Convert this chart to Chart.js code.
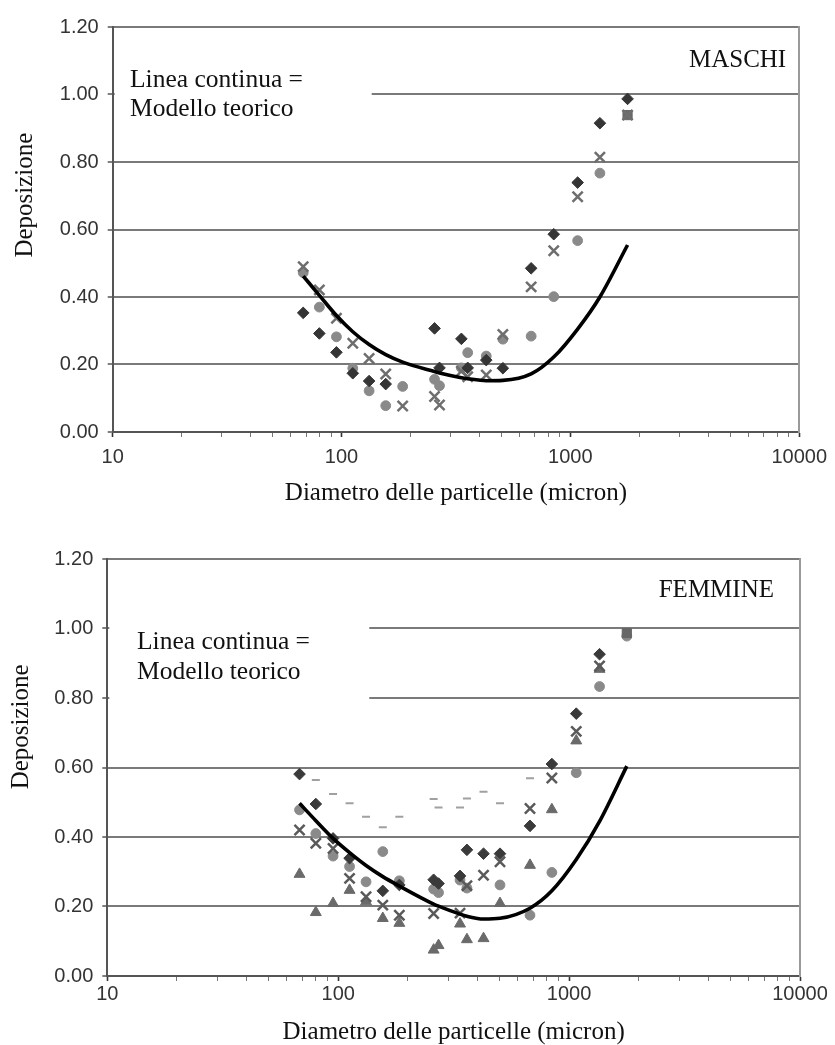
<!DOCTYPE html>
<html><head><meta charset="utf-8">
<script src="https://cdn.jsdelivr.net/npm/chart.js@4/dist/chart.umd.min.js"></script>
<style>
html,body{margin:0;padding:0;background:#fff;}
#wrap{position:relative;width:835px;height:1045px;overflow:hidden;}
.c{position:absolute;left:0;width:835px;}
</style></head><body>
<div id="wrap">
<div class="c" style="top:0;height:522px"><canvas id="top"></canvas></div>
<div class="c" style="top:522px;height:523px"><canvas id="bot"></canvas></div>
</div>
<script>
// ---- axis ticks ----
const xTicks = [10,20,30,40,50,60,70,80,90,100,200,300,400,500,600,700,800,900,1000,2000,3000,4000,5000,6000,7000,8000,9000,10000];
const xMajor = [10,100,1000,10000];
const xMajorLabels = ['10','100','1000','10000'];
const yTickLabels = ['0.00','0.20','0.40','0.60','0.80','1.00','1.20'];

// ---- MASCHI (top) ----
const xTop       = [68, 80, 95, 112, 132, 156, 185, 255, 268, 334, 356, 429, 507, 674, 846, 1076, 1346, 1778];
const topDiamond = [0.353, 0.292, 0.236, 0.174, 0.151, 0.142, null, 0.307, 0.190, 0.276, 0.190, 0.213, 0.189, 0.485, 0.586, 0.739, 0.915, 0.987];
const topCircle  = [0.472, 0.370, 0.282, 0.189, 0.122, 0.078, 0.135, 0.156, 0.137, 0.190, 0.235, 0.225, 0.275, 0.284, 0.401, 0.567, 0.767, null];
const topCross   = [0.490, 0.421, 0.337, 0.263, 0.218, 0.172, 0.077, 0.105, 0.080, 0.180, 0.164, 0.169, 0.289, 0.430, 0.537, 0.697, 0.814, 0.939];
const topSquare  = [null, null, null, null, null, null, null, null, null, null, null, null, null, null, null, null, null, 0.939];
const topModel   = [0.462, 0.405, 0.345, 0.297, 0.259, 0.229, 0.207, 0.179, 0.175, 0.161, 0.158, 0.152, 0.153, 0.172, 0.222, 0.305, 0.400, 0.554];

// ---- FEMMINE (bottom) ----
const xBot        = [68, 80, 95, 112, 132, 156, 184, 259, 272, 337, 361, 426, 502, 677, 842, 1074, 1355, 1778];
const botDiamond  = [0.581, 0.495, 0.396, 0.339, null, 0.245, 0.262, 0.277, 0.266, 0.288, 0.363, 0.352, 0.352, 0.432, 0.610, 0.755, 0.926, null];
const botCircle   = [0.478, 0.410, 0.345, 0.315, 0.271, 0.358, 0.274, 0.250, 0.240, 0.276, 0.253, null, 0.262, 0.175, 0.298, 0.585, 0.833, 0.978];
const botCross    = [0.420, 0.382, 0.367, 0.281, 0.228, 0.204, 0.175, 0.180, null, 0.181, 0.260, 0.290, 0.329, 0.482, 0.570, 0.704, 0.892, null];
const botTriangle = [0.293, 0.183, 0.209, 0.247, 0.214, 0.166, 0.152, 0.075, 0.088, 0.150, 0.105, 0.108, 0.209, 0.319, 0.479, 0.677, 0.883, null];
const botDash     = [null, 0.564, 0.524, 0.497, 0.458, 0.428, 0.458, 0.509, 0.485, 0.485, 0.511, 0.530, 0.497, 0.569, null, null, null, null];
const botSquare   = [null, null, null, null, null, null, null, null, null, null, null, null, null, null, null, null, null, 0.987];
const botModel    = [0.497, 0.447, 0.396, 0.355, 0.318, 0.286, 0.259, 0.207, 0.201, 0.178, 0.172, 0.164, 0.166, 0.195, 0.245, 0.335, 0.445, 0.604];

const noteLines = ['Linea continua =', 'Modello teorico'];

function pts(xs, ys) {
  return xs.map((x, i) => ({x: x, y: ys[i]})).filter(p => p.y !== null);
}

const SERIF = '"Liberation Serif", "Times New Roman", serif';
const SANS = '"Liberation Sans", Arial, sans-serif';

const notes = {
  id: 'notes',
  beforeDatasetsDraw(chart, args, o) {
    const ctx = chart.ctx, a = chart.chartArea;
    ctx.save();
    ctx.fillStyle = '#ffffff';
    ctx.fillRect(a.left + 2, a.top + o.boxTop, o.boxWidth, o.boxHeight);
    ctx.fillStyle = '#111';
    ctx.font = '25.5px ' + SERIF;
    ctx.textBaseline = 'middle';
    ctx.textAlign = 'left';
    o.lines.forEach((t, i) => ctx.fillText(t, a.left + o.textLeft, a.top + o.textTop + i * o.lineGap));
    ctx.font = '25px ' + SERIF;
    ctx.textAlign = 'right';
    ctx.fillText(o.label, a.right - o.labelRight, a.top + o.labelTop);
    ctx.restore();
  }
};

function scatterSet(data, style, color, radius, filled, bw) {
  return {
    data: data, showLine: false, pointStyle: style, pointRadius: radius,
    pointBackgroundColor: filled ? color : 'rgba(0,0,0,0)',
    pointBorderColor: color, pointBorderWidth: bw
  };
}
function modelSet(data) {
  return {
    data: data, showLine: true, borderColor: '#000', borderWidth: 3.6, pointRadius: 0,
    cubicInterpolationMode: 'monotone', fill: false
  };
}

function build(id, P) {
  return new Chart(document.getElementById(id), {
    type: 'scatter',
    data: { datasets: P.datasets },
    options: {
      responsive: true, maintainAspectRatio: false, animation: false, events: [],
      layout: { padding: { top: P.padTop, right: P.padRight, left: 0, bottom: 0 } },
      plugins: { legend: {display: false}, tooltip: {enabled: false}, notes: P.notes },
      scales: {
        x: {
          type: 'logarithmic', min: 10, max: 10000, position: 'bottom',
          afterBuildTicks: s => { s.ticks = xTicks.map(v => ({value: v, major: xMajor.includes(v)})); },
          afterFit: s => { s.height = P.xHeight; },
          grid: {
            drawOnChartArea: false, drawTicks: true, tickLength: 5,
            tickColor: c => (c.tick && xMajor.includes(c.tick.value)) ? '#333' : '#777',
            tickWidth: c => (c.tick && xMajor.includes(c.tick.value)) ? 1.6 : 1,
            color: '#777'
          },
          border: { display: true, color: '#555', width: 2 },
          ticks: {
            autoSkip: false, maxRotation: 0, minRotation: 0, padding: P.xTickPad, color: '#333',
            font: { family: SANS, size: 20, lineHeight: 1.2 },
            callback: v => { const k = xMajor.indexOf(v); return k >= 0 ? xMajorLabels[k] : ''; }
          },
          title: {
            display: true, text: 'Diametro delle particelle (micron)', color: '#111',
            font: { family: SERIF, size: 25, lineHeight: 1 },
            padding: { top: 0, bottom: P.xTitlePad }
          }
        },
        y: {
          min: 0, max: 1.2, position: 'left',
          afterFit: s => { s.width = P.yWidth; },
          afterBuildTicks: s => { s.ticks = yTickLabels.map(t => ({value: parseFloat(t)})); },
          grid: { color: '#7a7a7a', lineWidth: 2, drawTicks: true, tickLength: 5, tickColor: '#555', tickWidth: 1.5 },
          border: { display: true, color: '#555', width: 2 },
          ticks: {
            padding: 9, color: '#333', font: { family: SANS, size: 20, lineHeight: 1.2 },
            callback: (v, i) => yTickLabels[i]
          },
          title: {
            display: true, text: P.yTitle, color: '#111',
            font: { family: SERIF, size: 25, lineHeight: 1 },
            padding: { top: P.yTitlePad, bottom: 0 }
          }
        },
        y2: {
          min: 0, max: 1.2, position: 'right',
          afterFit: s => { s.width = 0; },
          ticks: { display: false },
          grid: { display: false, drawTicks: false },
          border: { display: true, color: '#9a9a9a', width: 2 }
        }
      }
    },
    plugins: [notes]
  });
}

build('top', {
  padTop: 27, padRight: 34, yWidth: 112.7, xHeight: 90, xTickPad: 8, xTitlePad: 16.5, yTitlePad: 12.5,
  yTitle: '           Deposizione',
  notes: { boxTop: 35, boxHeight: 66, boxWidth: 257, textLeft: 17.3, textTop: 53, lineGap: 29, lines: noteLines, label: 'MASCHI', labelRight: 13, labelTop: 33 },
  datasets: [
    modelSet(pts(xTop, topModel)),
    scatterSet(pts(xTop, topDiamond), 'rectRot', '#353535', 5.8, true, 1),
    scatterSet(pts(xTop, topCross), 'crossRot', '#6e6e6e', 7.2, false, 2.5),
    scatterSet(pts(xTop, topSquare), 'rect', '#6a6a6a', 6.5, true, 1),
    scatterSet(pts(xTop, topCircle), 'circle', '#8a8a8a', 4.9, true, 1)
  ]
});

build('bot', {
  padTop: 37, padRight: 35, yWidth: 107.3, xHeight: 69, xTickPad: 1.5, xTitlePad: 0, yTitlePad: 9,
  yTitle: '             Deposizione',
  notes: { boxTop: 56, boxHeight: 95, boxWidth: 260, textLeft: 29.7, textTop: 83, lineGap: 29.8, lines: noteLines, label: 'FEMMINE', labelRight: 26, labelTop: 31.4 },
  datasets: [
    modelSet(pts(xBot, botModel)),
    scatterSet(pts(xBot, botDiamond), 'rectRot', '#3a3a3a', 5.8, true, 1),
    scatterSet(pts(xBot, botCross), 'crossRot', '#5a5a5a', 7.2, false, 2.5),
    scatterSet(pts(xBot, botSquare), 'rect', '#666666', 6.5, true, 1),
    scatterSet(pts(xBot, botCircle), 'circle', '#8a8a8a', 4.9, true, 1),
    scatterSet(pts(xBot, botTriangle), 'triangle', '#6a6a6a', 6.3, true, 1),
    scatterSet(pts(xBot, botDash), 'line', '#a0a0a0', 4, false, 2)
  ]
});
</script>
</body></html>
